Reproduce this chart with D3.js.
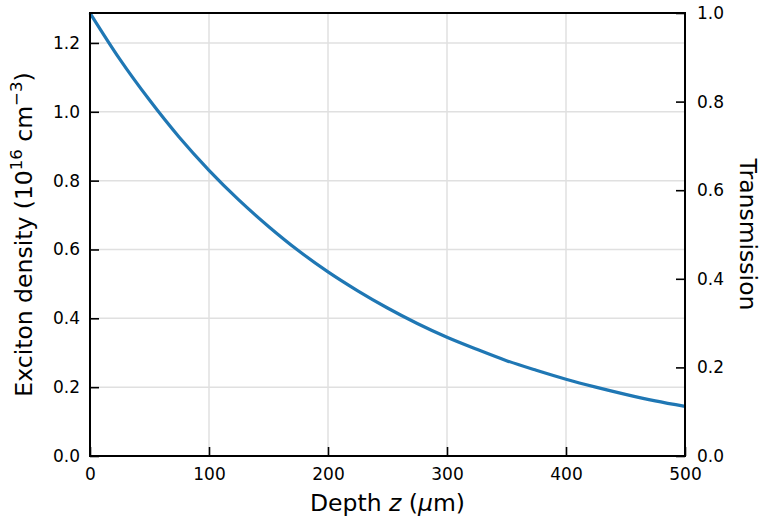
<!DOCTYPE html>
<html><head><meta charset="utf-8">
<script src="https://cdn.jsdelivr.net/npm/d3@7"></script>
<style>body{margin:0;background:#fff;} text{font-family:"DejaVu Sans",sans-serif;fill:#000;}</style>
</head><body>
<svg id="c" width="764" height="518"></svg>
<script>
const depth = [0,25,50,75,100,125,150,175,200,225,250,275,300,325,350,375,400,425,450,475,500];
const density = [1.287,1.153,1.034,0.926,0.830,0.744,0.667,0.597,0.535,0.480,0.430,0.385,0.345,0.310,0.277,0.249,0.223,0.200,0.179,0.160,0.144];
const xTicks = [0,100,200,300,400,500];
const yTicks = [0,0.2,0.4,0.6,0.8,1.0,1.2];
const y2Ticks = [0,0.2,0.4,0.6,0.8,1.0];

const svg = d3.select("#c");
const L=90,R=685,T=13,B=456;
const x = d3.scaleLinear().domain([0,500]).range([L,R]);
const y = d3.scaleLinear().domain([0,1.287]).range([B,T]);
const y2 = d3.scaleLinear().domain([0,1]).range([B,T]);

// grid
svg.append("g").selectAll("line").data(xTicks.slice(1,-1)).join("line")
  .attr("x1",d=>x(d)).attr("x2",d=>x(d)).attr("y1",T).attr("y2",B)
  .attr("stroke","#e0e0e0").attr("stroke-width",1.5);
svg.append("g").selectAll("line").data(yTicks.slice(1)).join("line")
  .attr("x1",L).attr("x2",R).attr("y1",d=>y(d)).attr("y2",d=>y(d))
  .attr("stroke","#e0e0e0").attr("stroke-width",1.5);

// axes
const fmt = d3.format(".1f");
const gx = svg.append("g").attr("transform",`translate(0,${B})`)
  .call(d3.axisBottom(x).tickValues(xTicks).tickSizeInner(-9).tickSizeOuter(0).tickPadding(12).tickFormat(d3.format("d")));
const gy = svg.append("g").attr("transform",`translate(${L},0)`)
  .call(d3.axisLeft(y).tickValues(yTicks).tickSizeInner(-9).tickSizeOuter(0).tickPadding(10).tickFormat(fmt));
const gy2 = svg.append("g").attr("transform",`translate(${R},0)`)
  .call(d3.axisRight(y2).tickValues(y2Ticks).tickSizeInner(-9).tickSizeOuter(0).tickPadding(12).tickFormat(fmt));
[gx,gy,gy2].forEach(g=>{
  g.selectAll("text").attr("font-size",17).attr("font-family","DejaVu Sans");
  g.selectAll(".tick line").attr("stroke","#000").attr("stroke-width",1.6);
  g.select(".domain").remove();
});
gx.selectAll("text").attr("y",12).attr("dy","0.73em");
gy.selectAll("text").attr("x",-10);
gy2.selectAll("text").attr("x",12);

// line
svg.append("path").datum(depth.map((d,i)=>[d,density[i]]))
  .attr("d",d3.line().x(d=>x(d[0])).y(d=>y(d[1])).curve(d3.curveMonotoneX))
  .attr("fill","none").attr("stroke","#1f77b4").attr("stroke-width",3.2);

// frame
svg.append("rect").attr("x",L).attr("y",T).attr("width",R-L).attr("height",B-T)
  .attr("fill","none").attr("stroke","#000").attr("stroke-width",2);

// labels
const xl = svg.append("text").attr("x",(L+R)/2).attr("y",511).attr("text-anchor","middle").attr("font-size",23.5);
xl.append("tspan").text("Depth ");
xl.append("tspan").attr("font-style","italic").text("z");
xl.append("tspan").text(" (");
xl.append("tspan").attr("font-style","italic").text("μ");
xl.append("tspan").text("m)");

const yl = svg.append("text").attr("transform",`translate(32,${(T+B)/2}) rotate(-90)`).attr("text-anchor","middle").attr("font-size",23.5);
yl.append("tspan").text("Exciton density (10");
yl.append("tspan").attr("dy",-10).attr("font-size",16.5).text("16");
yl.append("tspan").attr("dy",10).text(" cm");
yl.append("tspan").attr("dy",-10).attr("font-size",16.5).text("−3");
yl.append("tspan").attr("dy",10).text(")");

svg.append("text").attr("transform",`translate(740,${(T+B)/2}) rotate(90)`).attr("text-anchor","middle").attr("font-size",23.5).text("Transmission");
</script>
</body></html>
